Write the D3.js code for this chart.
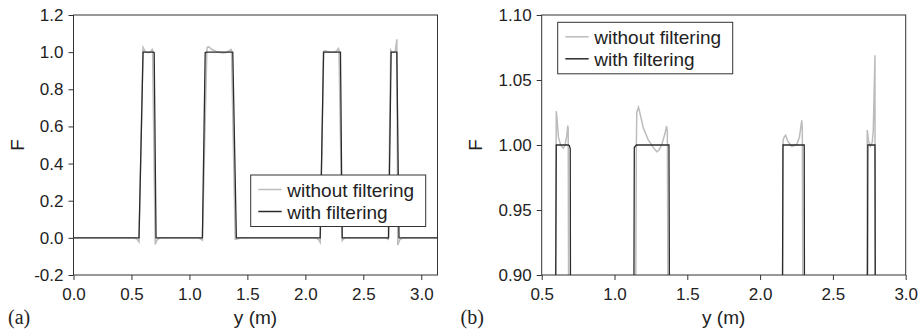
<!DOCTYPE html>
<html>
<head>
<meta charset="utf-8">
<script src="https://cdn.jsdelivr.net/npm/d3@7"></script>
<style>
	body { margin: 0; background: #fff; }
	text { font-family: 'Liberation Sans', Arial, sans-serif; fill: #222; }
</style>
</head>
<body>
<div id="chart-area"></div>
<script>
// DATA: position y (m) and F

// without filtering (grey)
const rawY = [0, 0.52, 0.545, 0.565, 0.600, 0.604, 0.615, 0.630, 0.648, 0.660, 0.672, 0.679, 0.682,
	0.705, 0.720, 0.745,
	1.080, 1.112, 1.150, 1.153, 1.165, 1.180, 1.198, 1.232, 1.267, 1.290, 1.305, 1.324, 1.347, 1.358, 1.363,
	1.395, 1.420, 1.450,
	2.090, 2.115, 2.128, 2.158, 2.165, 2.175, 2.190, 2.217, 2.250, 2.270, 2.286, 2.290,
	2.318, 2.340,
	2.690, 2.715, 2.736, 2.745, 2.757, 2.770, 2.777, 2.789,
	2.797, 2.815, 2.840, 3.14];
const rawF = [0, 0, -0.005, -0.022, 1.026, 1.022, 1.006, 1.000, 0.9975, 1.000, 1.007, 1.015, 1.012,
	-0.035, -0.012, 0,
	0, -0.012, 1.000, 1.025, 1.029, 1.022, 1.013, 1.004, 0.998, 0.9948, 0.996, 1.000, 1.009, 1.0145, 1.010,
	-0.008, -0.005, 0,
	0, -0.010, -0.025, 1.004, 1.006, 1.0075, 1.003, 0.999, 1.000, 1.006, 1.019, 1.012,
	-0.015, 0,
	0, -0.008, 1.0115, 1.003, 0.999, 1.002, 1.010, 1.069,
	-0.038, -0.010, 0, 0];

// with filtering (black)
const filtY = [0, 0.565, 0.600, 0.683, 0.690, 0.696, 0.712,
	1.112, 1.136, 1.150, 1.374, 1.405,
	2.128, 2.157, 2.303, 2.318,
	2.718, 2.740, 2.789, 2.808, 3.14];
const filtF = [0, 0, 1.0, 1.0, 0.9995, 0.997, 0,
	0, 0.998, 1.0, 1.0, 0,
	0, 1.0, 1.0, 0,
	0, 1.0, 1.0, 0, 0];

const xTicksA = [0, 0.5, 1.0, 1.5, 2.0, 2.5, 3.0];
const yTicksA = [-0.2, 0, 0.2, 0.4, 0.6, 0.8, 1.0, 1.2];
const xTicksB = [0.5, 1.0, 1.5, 2.0, 2.5, 3.0];
const yTicksB = [0.90, 0.95, 1.00, 1.05, 1.10];
const seriesNames = ['without filtering', 'with filtering'];
const seriesColors = ['#bcbcbc', '#2b2b2b'];

const rawData = rawY.map((y, i) => ({ y: y, f: rawF[i] }));
const filtData = filtY.map((y, i) => ({ y: y, f: filtF[i] }));

const svg = d3.select('#chart-area')
	.append('svg')
		.attr('width', 919)
		.attr('height', 333);

function drawPanel(cfg) {
	const w = cfg.right - cfg.left;
	const h = cfg.bottom - cfg.top;
	const g = svg.append('g')
		.attr('transform', `translate(${cfg.left},${cfg.top})`);

	const xScale = d3.scaleLinear().domain(cfg.xDomain).range([0, w]);
	const yScale = d3.scaleLinear().domain(cfg.yDomain).range([h, 0]);

	// AXES
	const xAxisCall = d3.axisBottom(xScale)
		.tickValues(cfg.xTicks)
		.tickSizeInner(5).tickSizeOuter(0).tickPadding(8)
		.tickFormat(d => d.toFixed(1));
	const yAxisCall = d3.axisLeft(yScale)
		.tickValues(cfg.yTicks)
		.tickSizeInner(5).tickSizeOuter(0).tickPadding(5)
		.tickFormat(d => d.toFixed(cfg.yDigits));

	const xAxisGroup = g.append('g')
		.attr('transform', `translate(0,${h})`)
		.call(xAxisCall);
	const yAxisGroup = g.append('g')
		.call(yAxisCall);
	[xAxisGroup, yAxisGroup].forEach(a => {
		a.select('.domain').remove();
		a.selectAll('line').attr('stroke', '#333');
		a.selectAll('text')
			.attr('font-size', 17)
			.style('font-family', "'Liberation Sans', Arial, sans-serif")
			.attr('fill', '#222');
	});

	// LINES (clipped to plot area)
	const clipId = 'clip-' + cfg.tag;
	g.append('clipPath').attr('id', clipId)
		.append('rect').attr('width', w).attr('height', h);

	const line = d3.line()
		.x(d => xScale(d.y))
		.y(d => yScale(d.f));

	const plot = g.append('g').attr('clip-path', `url(#${clipId})`);
	plot.append('path')
		.datum(rawData)
		.attr('fill', 'none')
		.attr('stroke', seriesColors[0])
		.attr('stroke-width', 1.5)
		.attr('d', line);
	plot.append('path')
		.datum(filtData)
		.attr('fill', 'none')
		.attr('stroke', seriesColors[1])
		.attr('stroke-width', 1.3)
		.attr('d', line);

	// FRAME
	g.append('rect')
		.attr('width', w)
		.attr('height', h)
		.attr('fill', 'none')
		.attr('stroke', '#333')
		.attr('stroke-width', 1);

	// LABELS
	g.append('text')
		.attr('x', w / 2)
		.attr('y', h + 49)
		.attr('text-anchor', 'middle')
		.attr('font-size', 19)
		.text('y (m)');

	g.append('text')
		.attr('x', -h / 2)
		.attr('y', -cfg.yTitleOffset)
		.attr('transform', 'rotate(-90)')
		.attr('text-anchor', 'middle')
		.attr('font-size', 19)
		.text('F');

	svg.append('text')
		.attr('x', cfg.tagX)
		.attr('y', 324)
		.attr('font-size', 20)
		.style('font-family', "'Liberation Serif', 'Times New Roman', serif")
		.text('(' + cfg.tag + ')');

	// LEGEND
	const legend = svg.append('g')
		.attr('transform', `translate(${cfg.legendX},${cfg.legendY})`);
	legend.append('rect')
		.attr('width', 175)
		.attr('height', 51.5)
		.attr('fill', '#fff')
		.attr('stroke', '#333')
		.attr('stroke-width', 1);
	seriesNames.forEach((name, i) => {
		legend.append('line')
			.attr('x1', 7.6)
			.attr('x2', 31)
			.attr('y1', 14.5 + i * 22)
			.attr('y2', 14.5 + i * 22)
			.attr('stroke', seriesColors[i])
			.attr('stroke-width', 1.5);
		legend.append('text')
			.attr('x', 36.6)
			.attr('y', 22 + i * 22)
			.attr('font-size', 19)
			.text(name);
	});
}

drawPanel({
	tag: 'a', left: 73.5, right: 437.5, top: 15, bottom: 275,
	xDomain: [0, 3.14], yDomain: [-0.2, 1.2],
	xTicks: xTicksA, yTicks: yTicksA, yDigits: 1,
	yTitleOffset: 50, tagX: 8, legendX: 250.7, legendY: 175
});

drawPanel({
	tag: 'b', left: 541.7, right: 905.7, top: 15, bottom: 275,
	xDomain: [0.5, 3.0], yDomain: [0.90, 1.10],
	xTicks: xTicksB, yTicks: yTicksB, yDigits: 2,
	yTitleOffset: 60, tagX: 460.5, legendX: 557.7, legendY: 22.3
});
</script>
</body>
</html>
